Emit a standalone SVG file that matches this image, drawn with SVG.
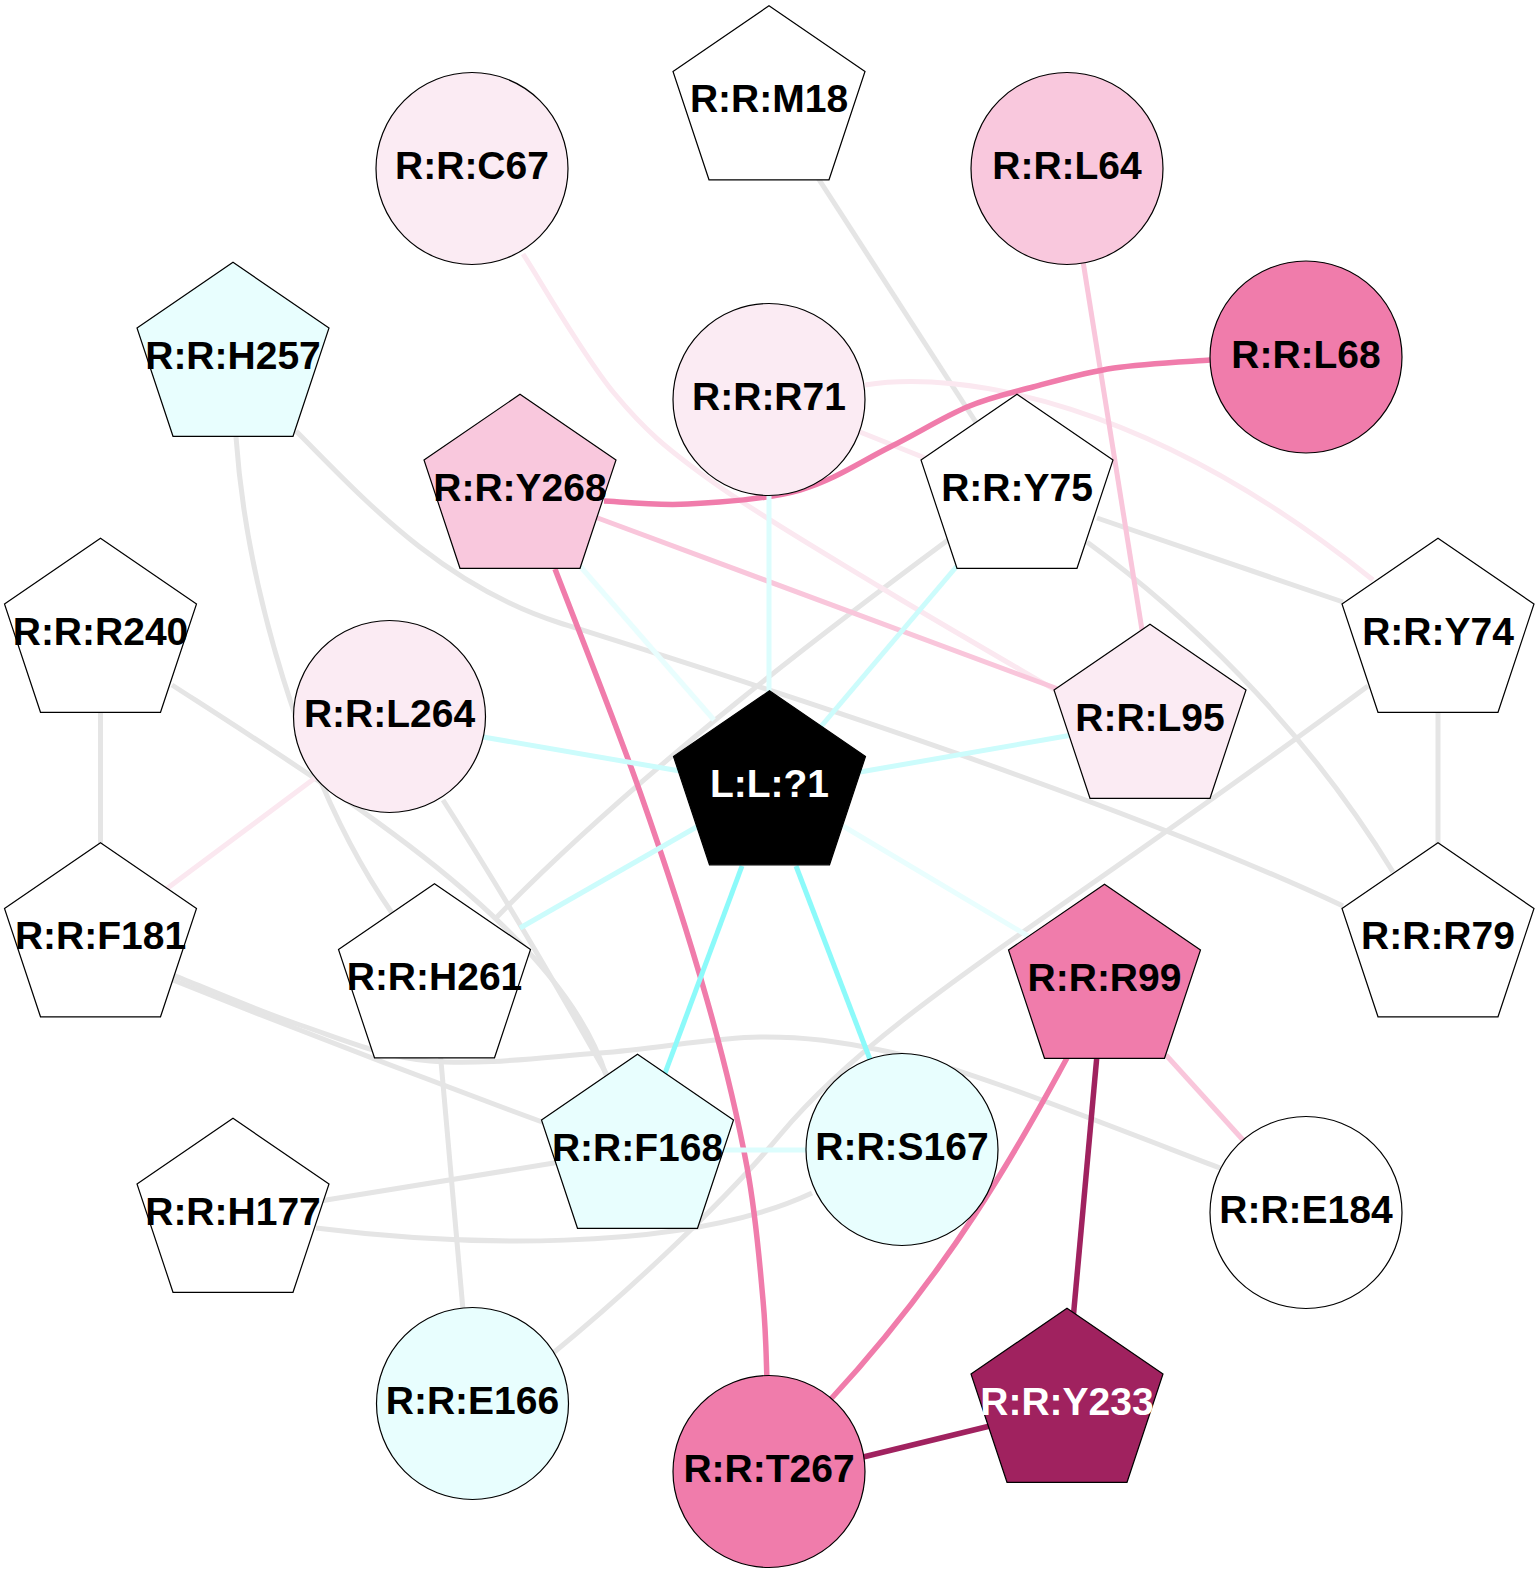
<svg xmlns="http://www.w3.org/2000/svg" xmlns:xlink="http://www.w3.org/1999/xlink" width="1540" height="1574" viewBox="0 0 1540 1574">
<defs>
<style>
.e{fill:none;stroke-width:5;stroke-linecap:butt}
.g{stroke:#e5e5e5}
.p1{stroke:#fbe8f0}
.p2{stroke:#f9c6db}
.p3{stroke:#f07cab;stroke-width:5.5}
.p4{stroke:#a0225f;stroke-width:5.5}
.c1{stroke:#e9fefe}
.c2{stroke:#dcfdfd}
.c3{stroke:#ccfcfc}
.c4{stroke:#8cfafa}
.n{stroke:#000;stroke-width:1.2}
.w{fill:#fff}
.lp{fill:#fbebf3}
.mp{fill:#f9c8dd}
.sp{fill:#f07cab}
.dp{fill:#a0225f}
.lc{fill:#e8fefe}
.bk{fill:#000}
text{font-family:"Liberation Sans",Arial,Helvetica,sans-serif;font-weight:bold;font-size:39px;text-anchor:middle;fill:#000}
text.wt{fill:#fff}
</style>
<polygon id="pent" points="0,-95.7 96,-30 60,78.3 -60,78.3 -96,-30"/>
</defs>
<rect width="1540" height="1574" fill="#fff"/>
<g id="edges">
<path class="e g" d="M818 178 L979 427"/>
<path class="e g" d="M236 437 C246 580 300 780 392 913"/>
<path class="e g" d="M296 431 C360 495 440 585 560 623 C700 667 1100 792 1343 906"/>
<path class="e g" d="M100.5 700 L100.5 850"/>
<path class="e g" d="M172 685 C350 800 560 930 606 1075"/>
<path class="e g" d="M443 800 Q520 920 607 1075"/>
<path class="e g" d="M173 980 Q360 1055 545 1123"/>
<path class="e g" d="M173 975 C194.2 983.3 257.2 1010.7 300 1025 C342.8 1039.3 380 1056.3 430 1061 C480 1065.7 545 1057 600 1053 C655 1049 713.3 1037.5 760 1037 C806.7 1036.5 840 1042 880 1050 C920 1058 943.3 1065.3 1000 1085 C1056.7 1104.7 1183.3 1154.2 1220 1168"/>
<path class="e g" d="M440 1050 L463 1310"/>
<path class="e g" d="M948 540 C840 620 640 770 496 918"/>
<path class="e g" d="M320 1201 L560 1162"/>
<path class="e g" d="M316 1228 C450 1245 680 1255 812 1193"/>
<path class="e g" d="M1368 686 C1038 930 880 1015 780 1135 C725 1201 630 1290 552 1354"/>
<path class="e g" d="M1438 700 L1438 850"/>
<path class="e g" d="M1097 518 L1343 602"/>
<path class="e g" d="M1087 542 C1180 610 1300 720 1393 872"/>
<path class="e p1" d="M523 254 C538.2 277.2 582.8 355.3 614 393 C645.2 430.7 665.7 447.7 710 480 C754.3 512.3 822.5 552 880 587 C937.5 622 1025.8 672.8 1055 690"/>
<path class="e p1" d="M865 385 C960 370 1150 400 1373 580"/>
<path class="e p1" d="M850 428 L935 462"/>
<path class="e p1" d="M165 890 L315 778"/>
<path class="e p2" d="M595 517 L1058 689"/>
<path class="e p2" d="M1082 255 L1142 630"/>
<path class="e p2" d="M1166 1055 L1243 1140"/>
<path class="e p3" d="M604 501 C618 501.5 655.3 505.8 688 504 C720.7 502.2 766.3 499.5 800 490 C833.7 480.5 862.2 460.8 890 447 C917.8 433.2 943.2 417 967 407 C990.8 397 1008.5 393.5 1033 387 C1057.5 380.5 1084.5 372.5 1114 368 C1143.5 363.5 1194 361.3 1210 360"/>
<path class="e p3" d="M555 569 C569.2 606.2 614.7 720.2 640 792 C665.3 863.8 689.2 937.5 707 1000 C724.8 1062.5 737.7 1117 747 1167 C756.3 1217 759.7 1264.5 763 1300 C766.3 1335.5 766.3 1366.7 767 1380"/>
<path class="e p3" d="M1067 1058 C1030 1125 960 1260 830 1400"/>
<path class="e p4" d="M1097 1055 L1073 1320"/>
<path class="e p4" d="M855 1459 L990 1426"/>
<path class="e c1" d="M580 566 L714 720"/>
<path class="e c2" d="M769 495 L769 695"/>
<path class="e c3" d="M483 737 L680 771"/>
<path class="e c3" d="M957 566 L818 730"/>
<path class="e c3" d="M860 772 L1072 735"/>
<path class="e c3" d="M700 825 L520 928"/>
<path class="e c1" d="M843 826 L1028 936"/>
<path class="e c4" d="M742 866 L664 1076"/>
<path class="e c4" d="M796 866 L871 1062"/>
<path class="e c2" d="M720 1150 L810 1150"/>
</g>
<g id="n-M18"><use href="#pent" x="769" y="101.5" class="n w"/><text x="769" y="112">R:R:M18</text></g>
<g id="n-C67"><circle cx="472" cy="168.5" r="96" class="n lp"/><text x="472" y="179">R:R:C67</text></g>
<g id="n-L64"><circle cx="1067" cy="168.5" r="96" class="n mp"/><text x="1067" y="179">R:R:L64</text></g>
<g id="n-H257"><use href="#pent" x="233" y="358" class="n lc"/><text x="233" y="368.5">R:R:H257</text></g>
<g id="n-L68"><circle cx="1306" cy="357" r="96" class="n sp"/><text x="1306" y="367.5">R:R:L68</text></g>
<g id="n-R71"><circle cx="769" cy="399.5" r="96" class="n lp"/><text x="769" y="410">R:R:R71</text></g>
<g id="n-Y268"><use href="#pent" x="520" y="490" class="n mp"/><text x="520" y="500.5">R:R:Y268</text></g>
<g id="n-Y75"><use href="#pent" x="1017" y="490" class="n w"/><text x="1017" y="500.5">R:R:Y75</text></g>
<g id="n-R240"><use href="#pent" x="100.5" y="634" class="n w"/><text x="100.5" y="644.5">R:R:R240</text></g>
<g id="n-Y74"><use href="#pent" x="1438" y="634" class="n w"/><text x="1438" y="644.5">R:R:Y74</text></g>
<g id="n-L264"><circle cx="389.5" cy="716.5" r="96" class="n lp"/><text x="389.5" y="727">R:R:L264</text></g>
<g id="n-L95"><use href="#pent" x="1150" y="720" class="n lp"/><text x="1150" y="730.5">R:R:L95</text></g>
<g id="n-L1"><use href="#pent" x="769.5" y="786.5" class="n bk"/><text x="769.5" y="797" class="wt">L:L:?1</text></g>
<g id="n-F181"><use href="#pent" x="100.5" y="938.5" class="n w"/><text x="100.5" y="949">R:R:F181</text></g>
<g id="n-R79"><use href="#pent" x="1438" y="938.5" class="n w"/><text x="1438" y="949">R:R:R79</text></g>
<g id="n-H261"><use href="#pent" x="434.5" y="979.5" class="n w"/><text x="434.5" y="990">R:R:H261</text></g>
<g id="n-R99"><use href="#pent" x="1104.5" y="980" class="n sp"/><text x="1104.5" y="990.5">R:R:R99</text></g>
<g id="n-F168"><use href="#pent" x="637.5" y="1150" class="n lc"/><text x="637.5" y="1160.5">R:R:F168</text></g>
<g id="n-S167"><circle cx="902" cy="1149.5" r="96" class="n lc"/><text x="902" y="1160">R:R:S167</text></g>
<g id="n-H177"><use href="#pent" x="233" y="1214" class="n w"/><text x="233" y="1224.5">R:R:H177</text></g>
<g id="n-E184"><circle cx="1306" cy="1212.5" r="96" class="n w"/><text x="1306" y="1223">R:R:E184</text></g>
<g id="n-E166"><circle cx="472.5" cy="1403.5" r="96" class="n lc"/><text x="472.5" y="1414">R:R:E166</text></g>
<g id="n-Y233"><use href="#pent" x="1067" y="1404" class="n dp"/><text x="1067" y="1414.5" class="wt">R:R:Y233</text></g>
<g id="n-T267"><circle cx="769" cy="1471.5" r="96" class="n sp"/><text x="769" y="1482">R:R:T267</text></g>
</svg>
